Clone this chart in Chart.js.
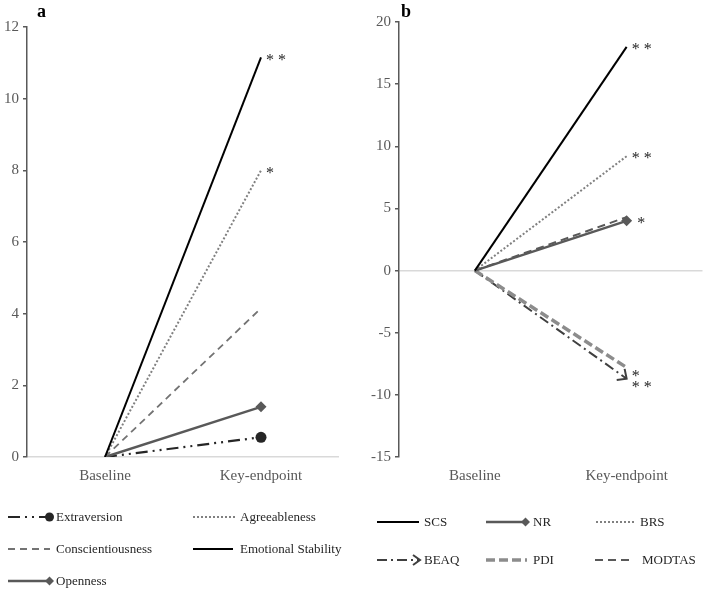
<!DOCTYPE html>
<html>
<head>
<meta charset="utf-8">
<script src="https://cdn.jsdelivr.net/npm/chart.js@4.4.0/dist/chart.umd.min.js"></script>
<style>
body{margin:0;background:#fff;width:708px;height:589px;position:relative;overflow:hidden;font-family:"Liberation Serif","Times New Roman",serif;}
.painel{position:absolute;top:0;width:354px;height:485px;}
.letra{position:absolute;top:1px;font-weight:bold;font-size:18px;color:#000;}
.leg{position:absolute;height:14px;}
.leg canvas{position:absolute;top:0;}
.leg span{position:absolute;top:-1px;font-size:13px;line-height:16px;color:#262626;white-space:nowrap;}
</style>
</head>
<body>
<div class="painel" style="left:0"><canvas id="graficoA"></canvas></div>
<div class="painel" style="left:354px"><canvas id="graficoB"></canvas></div>
<div class="letra" style="left:37px">a</div>
<div class="letra" style="left:401px">b</div>
<div id="legendas"></div>
<script>
const categorias = ['Baseline', 'Key-endpoint'];

// painel a
const extraversao = [0, 0.55];
const amabilidade = [0, 8.0];
const conscienciosidade = [0, 4.15];
const estabilidade = [0, 11.15];
const abertura = [0, 1.4];

// painel b
const scs = [0, 18.0];
const nr = [0, 4.0];
const brs = [0, 9.2];
const beaq = [0, -8.7];
const pdi = [0, -7.8];
const modtas = [0, 4.3];

const ticksA = {min: 0, max: 12, passo: 2};
const ticksB = {min: -15, max: 20, passo: 5};

const fonte = '"Liberation Serif", "Times New Roman", serif';
const cinzaTexto = '#595959';

function serie(label, data, cor, largura, traco, extra) {
    return Object.assign({
        label: label,
        data: data,
        borderColor: cor,
        backgroundColor: cor,
        borderWidth: largura,
        borderDash: traco,
        pointRadius: 0,
        pointHoverRadius: 0,
        tension: 0,
        fill: false
    }, extra || {});
}

const dadosA = [
    serie('Emotional Stability', estabilidade, '#000000', 2, [], {sig: '**'}),
    serie('Agreeableness', amabilidade, '#808080', 2, [2, 2], {sig: '*'}),
    serie('Conscientiousness', conscienciosidade, '#737373', 1.8, [7, 5]),
    serie('Openness', abertura, '#595959', 2.5, [], {pointStyle: 'rectRot', pointRadius: [0, 5.5], pointBorderWidth: 0}),
    serie('Extraversion', extraversao, '#262626', 2.2, [12, 5, 2, 5, 2, 5], {pointStyle: 'circle', pointRadius: [0, 5.5], pointBorderWidth: 0})
];

const dadosB = [
    serie('SCS', scs, '#000000', 2, [], {sig: '**'}),
    serie('BRS', brs, '#808080', 2, [2, 2], {sig: '**'}),
    serie('MODTAS', modtas, '#595959', 2, [8, 5]),
    serie('NR', nr, '#595959', 2.5, [], {pointStyle: 'rectRot', pointRadius: [0, 5.5], pointBorderWidth: 0, sig: '*'}),
    serie('PDI', pdi, '#8c8c8c', 3.5, [9, 4], {sig: '*'}),
    serie('BEAQ', beaq, '#404040', 2, [10, 4, 2, 4], {seta: true, sig: '**'})
];

// asteriscos e ponta de seta no fim das linhas
const marcas = {
    id: 'marcas',
    afterDatasetsDraw(chart) {
        const ctx = chart.ctx;
        ctx.save();
        chart.data.datasets.forEach((ds, i) => {
            const pts = chart.getDatasetMeta(i).data;
            const fim = pts[pts.length - 1];
            const ini = pts[pts.length - 2];
            if (ds.seta) {
                const ang = Math.atan2(fim.y - ini.y, fim.x - ini.x);
                ctx.strokeStyle = ds.borderColor;
                ctx.lineWidth = 2;
                ctx.setLineDash([]);
                ctx.beginPath();
                ctx.moveTo(fim.x + 10 * Math.cos(ang + Math.PI - 0.75), fim.y + 10 * Math.sin(ang + Math.PI - 0.75));
                ctx.lineTo(fim.x, fim.y);
                ctx.lineTo(fim.x + 10 * Math.cos(ang + Math.PI + 0.75), fim.y + 10 * Math.sin(ang + Math.PI + 0.75));
                ctx.stroke();
            }
            if (ds.sig) {
                const v = ds.data[ds.data.length - 1];
                ctx.font = '16px ' + fonte;
                ctx.fillStyle = '#262626';
                ctx.textBaseline = 'middle';
                const r = Array.isArray(ds.pointRadius) ? ds.pointRadius[1] : 0;
                ctx.fillText(ds.sig.split('').join(' '), fim.x + 5 + r, fim.y + (v < 0 ? 9 : 3));
            }
        });
        ctx.restore();
    }
};

function opcoes(t, largY, pad) {
    return {
        responsive: true,
        maintainAspectRatio: false,
        animation: false,
        layout: {padding: pad},
        plugins: {legend: {display: false}, tooltip: {enabled: false}},
        scales: {
            x: {
                type: 'category',
                offset: true,
                grid: {display: false},
                border: {display: false},
                ticks: {color: cinzaTexto, font: {family: fonte, size: 15}, padding: 2},
                afterFit: s => { s.height = 28; }
            },
            y: {
                min: t.min,
                max: t.max,
                ticks: {stepSize: t.passo, color: cinzaTexto, font: {family: fonte, size: 15}, padding: 4},
                grid: {
                    color: c => (c.tick && c.tick.value === 0) ? '#d9d9d9' : 'rgba(0,0,0,0)',
                    lineWidth: 1.5,
                    tickColor: '#595959',
                    tickLength: 4
                },
                border: {color: '#595959', width: 1.5},
                afterFit: s => { s.width = largY; }
            }
        }
    };
}

new Chart(document.getElementById('graficoA'), {
    type: 'line',
    data: {labels: categorias, datasets: dadosA},
    options: opcoes(ticksA, 27, {left: 0, right: 15, top: 27, bottom: 0}),
    plugins: [marcas]
});

new Chart(document.getElementById('graficoB'), {
    type: 'line',
    data: {labels: categorias, datasets: dadosB},
    options: opcoes(ticksB, 45, {left: 0, right: 1, top: 22, bottom: 0}),
    plugins: [marcas]
});

// legendas em html, amostras desenhadas com o estilo de cada serie
function itemLegenda(ds, x, y, w, textoX) {
    const div = document.createElement('div');
    div.className = 'leg';
    div.style.left = x + 'px';
    div.style.top = (y - 7) + 'px';
    const cv = document.createElement('canvas');
    cv.width = w + 4; cv.height = 14;
    div.appendChild(cv);
    const c = cv.getContext('2d');
    const r = Array.isArray(ds.pointRadius) ? ds.pointRadius[1] - 1 : 0;
    c.strokeStyle = ds.borderColor;
    c.lineWidth = ds.borderWidth;
    c.setLineDash(ds.borderDash || []);
    c.beginPath(); c.moveTo(0, 7); c.lineTo(w - r, 7); c.stroke();
    c.setLineDash([]);
    c.fillStyle = ds.borderColor;
    if (ds.pointStyle === 'circle') {
        c.beginPath(); c.arc(w - r, 7, r, 0, Math.PI * 2); c.fill();
    } else if (ds.pointStyle === 'rectRot') {
        c.beginPath(); c.moveTo(w - r, 7 - r); c.lineTo(w, 7); c.lineTo(w - r, 7 + r); c.lineTo(w - 2 * r, 7); c.closePath(); c.fill();
    }
    if (ds.seta) {
        c.lineWidth = 2;
        c.beginPath(); c.moveTo(w - 7, 2); c.lineTo(w, 7); c.lineTo(w - 7, 12); c.stroke();
    }
    const sp = document.createElement('span');
    sp.textContent = ds.label;
    sp.style.left = (textoX - x) + 'px';
    div.appendChild(sp);
    document.getElementById('legendas').appendChild(div);
}

const porNome = {};
dadosA.concat(dadosB).forEach(d => { porNome[d.label] = d; });

itemLegenda(porNome['Extraversion'], 8, 517, 46, 56);
itemLegenda(porNome['Agreeableness'], 193, 517, 43, 240);
itemLegenda(porNome['Conscientiousness'], 8, 549, 42, 56);
itemLegenda(porNome['Emotional Stability'], 193, 549, 40, 240);
itemLegenda(porNome['Openness'], 8, 581, 46, 56);

itemLegenda(porNome['SCS'], 377, 522, 42, 424);
itemLegenda(porNome['NR'], 486, 522, 44, 533);
itemLegenda(porNome['BRS'], 596, 522, 40, 640);
itemLegenda(porNome['BEAQ'], 377, 560, 43, 424);
itemLegenda(porNome['PDI'], 486, 560, 41, 533);
itemLegenda(porNome['MODTAS'], 595, 560, 36, 642);
</script>
</body>
</html>
